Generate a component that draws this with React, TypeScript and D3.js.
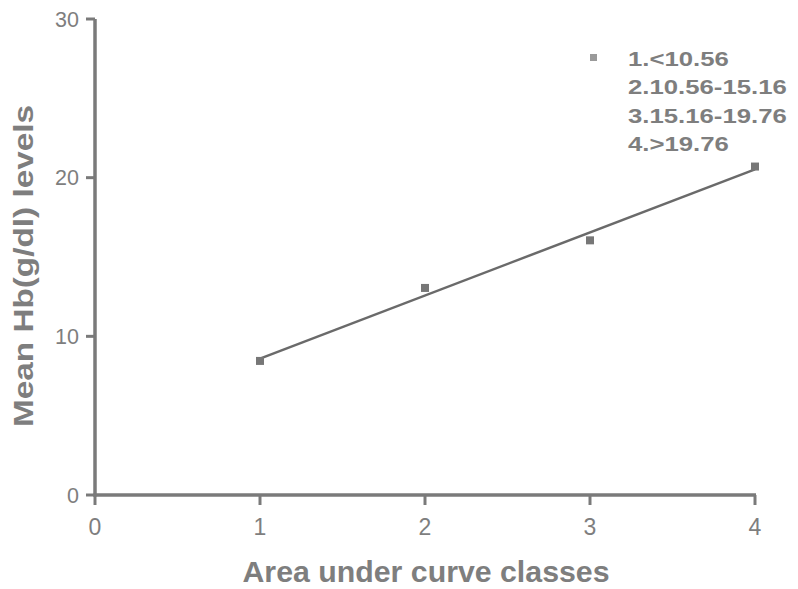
import React from "react";
import * as d3 from "d3";

// AUC classes and mean haemoglobin per class
const classes = [1, 2, 3, 4];
const meanHb = [8.45, 13.05, 16.05, 20.7];
const xTicks = [0, 1, 2, 3, 4];
const yTicks = [0, 10, 20, 30];
const legendLines = ["1.<10.56", "2.10.56-15.16", "3.15.16-19.76", "4.>19.76"];

const W = 798;
const H = 589;
const margin = { left: 95, right: 43, top: 19, bottom: 94 };

export default function App() {
  const x = d3.scaleLinear().domain([0, 4]).range([margin.left, W - margin.right]);
  const y = d3.scaleLinear().domain([0, 30]).range([H - margin.bottom, margin.top]);

  // least-squares fit through the class means
  const mx = d3.mean(classes) as number;
  const my = d3.mean(meanHb) as number;
  const sxy = d3.sum(classes, (c, i) => (c - mx) * (meanHb[i] - my));
  const sxx = d3.sum(classes, (c) => (c - mx) ** 2);
  const slope = sxy / sxx;
  const intercept = my - slope * mx;
  const fitX = [classes[0], classes[classes.length - 1]];
  const line = d3
    .line<number>()
    .x((d) => x(d))
    .y((d) => y(intercept + slope * d));

  const axisColor = "#7a7a7a";
  const textColor = "#7e7e7e";
  const font = "Liberation Sans, Arial, sans-serif";
  const ms = 8;

  return (
    <svg width={W} height={H} style={{ position: "absolute", left: 0, top: 0, background: "#fff" }}>
      <rect width={W} height={H} fill="#fff" />
      {/* axes */}
      <line x1={x(0)} x2={x(0)} y1={y(30)} y2={y(0) + 1.5} stroke={axisColor} strokeWidth={3.5} />
      <line x1={x(0) - 1.5} x2={x(4) + 1} y1={y(0)} y2={y(0)} stroke={axisColor} strokeWidth={3.5} />
      {yTicks.map((t) => (
        <g key={"y" + t}>
          <line x1={x(0) - 9} x2={x(0)} y1={y(t)} y2={y(t)} stroke={axisColor} strokeWidth={3} />
          <text
            x={x(0) - 16}
            y={y(t) + 7.5}
            textAnchor="end"
            fontFamily={font}
            fontSize={21.5}
            fill={textColor}
          >
            {t}
          </text>
        </g>
      ))}
      {xTicks.map((t) => (
        <g key={"x" + t}>
          <line x1={x(t)} x2={x(t)} y1={y(0)} y2={y(0) + 10} stroke={axisColor} strokeWidth={3} />
          <text
            x={x(t)}
            y={535}
            textAnchor="middle"
            fontFamily={font}
            fontSize={23}
            fill={textColor}
          >
            {t}
          </text>
        </g>
      ))}
      {/* regression line */}
      <path d={line(fitX) || ""} stroke="#6a6a6a" strokeWidth={2.5} fill="none" />
      {/* class means */}
      {classes.map((c, i) => (
        <rect
          key={c}
          x={x(c) - ms / 2}
          y={y(meanHb[i]) - ms / 2}
          width={ms}
          height={ms}
          fill="#777"
        />
      ))}
      {/* legend */}
      <rect x={590} y={54} width={7} height={7} fill="#9a9a9a" />
      {legendLines.map((s, i) => (
        <text
          key={s}
          transform={`translate(628, ${66 + i * 28.3}) scale(1.32, 1)`}
          fontFamily={font}
          fontSize={19.5}
          fontWeight="bold"
          fill={textColor}
        >
          {s}
        </text>
      ))}
      {/* axis titles */}
      <text
        x={426}
        y={582}
        textAnchor="middle"
        fontFamily={font}
        fontSize={30}
        fontWeight="bold"
        fill={textColor}
        textLength={367}
        lengthAdjust="spacingAndGlyphs"
      >
        Area under curve classes
      </text>
      <text
        transform="translate(33, 266) rotate(-90)"
        textAnchor="middle"
        fontFamily={font}
        fontSize={28.5}
        fontWeight="bold"
        fill={textColor}
        textLength={322}
        lengthAdjust="spacingAndGlyphs"
      >
        Mean Hb(g/dl) levels
      </text>
    </svg>
  );
}
